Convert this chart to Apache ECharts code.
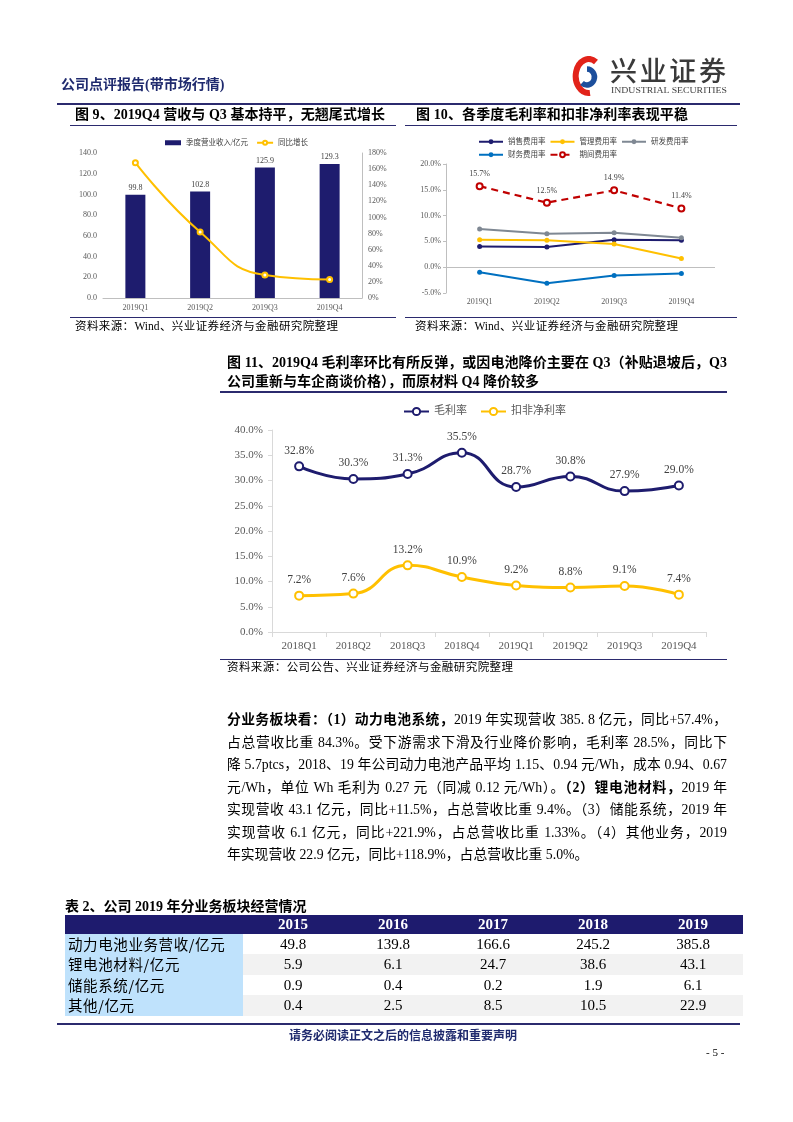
<!DOCTYPE html>
<html><head><meta charset="utf-8">
<script src="https://cdn.jsdelivr.net/npm/echarts@6/dist/echarts.min.js"></script>
<style>
html,body{margin:0;padding:0;background:#fff;}
#page{position:relative;width:793px;height:1122px;overflow:hidden;font-family:'Liberation Serif','Noto Sans CJK SC',serif;color:#000;}
#chart{position:absolute;left:0;top:0;width:793px;height:1122px;}
.t{position:absolute;white-space:nowrap;}
.j{text-align:justify;text-align-last:justify;}
.hl{position:absolute;background:#2b2a6e;}
.b{font-weight:bold;}
table{border-collapse:collapse;table-layout:fixed;}
td{padding:0;}
</style></head>
<body><div id="page">
<div id="chart"></div>

<!-- header -->
<div class="t b" style="left:61px;top:75px;line-height:20px;font-size:14px;color:#1f2a6e;">公司点评报告(带市场行情)</div>
<svg style="position:absolute;left:570px;top:56px;" width="170" height="44">
  <path d="M26,6 A13,17 0 1,0 20,37" stroke="#e2231a" stroke-width="6" fill="none"/>
  <path d="M12,27 A7.5,8 0 1,0 17,13" stroke="#1d4f9c" stroke-width="5.5" fill="none"/>
  <text x="40" y="25" font-family="Noto Sans CJK SC" font-weight="500" font-size="27" fill="#3a3a3a" textLength="116" lengthAdjust="spacing">兴业证券</text>
  <text x="41" y="37" font-family="Liberation Serif" font-size="9" fill="#404040" textLength="116" lengthAdjust="spacingAndGlyphs">INDUSTRIAL SECURITIES</text>
</svg>
<div class="hl" style="left:57px;top:103px;width:683px;height:1.5px;"></div>

<!-- fig 9 / 10 titles -->
<div class="t b j" style="left:75px;top:105px;width:310px;line-height:20px;font-size:14px;">图 9、2019Q4 营收与 Q3 基本持平，无翘尾式增长</div>
<div class="t b j" style="left:416px;top:105px;width:272px;line-height:20px;font-size:14px;">图 10、各季度毛利率和扣非净利率表现平稳</div>
<div class="hl" style="left:70px;top:124.5px;width:326px;height:1.5px;"></div>
<div class="hl" style="left:405px;top:124.5px;width:332px;height:1.5px;"></div>
<div class="hl" style="left:70px;top:316.5px;width:326px;height:1.5px;"></div>
<div class="hl" style="left:405px;top:316.5px;width:332px;height:1.5px;"></div>
<div class="t j" style="left:75px;top:318px;width:263px;line-height:17px;font-size:11.5px;">资料来源：Wind、兴业证券经济与金融研究院整理</div>
<div class="t j" style="left:415px;top:318px;width:263px;line-height:17px;font-size:11.5px;">资料来源：Wind、兴业证券经济与金融研究院整理</div>

<!-- fig 11 title -->
<div class="t b j" style="left:227px;top:353px;width:500px;line-height:20px;font-size:14px;">图 11、2019Q4 毛利率环比有所反弹，或因电池降价主要在 Q3（补贴退坡后，Q3</div>
<div class="t b j" style="left:227px;top:372px;width:308px;line-height:20px;font-size:14px;">公司重新与车企商谈价格），而原材料 Q4 降价较多</div>
<div class="hl" style="left:220px;top:391px;width:507px;height:1.5px;"></div>
<div class="hl" style="left:220px;top:658.5px;width:507px;height:1.5px;"></div>
<div class="t j" style="left:227px;top:659px;width:286px;line-height:17px;font-size:11.5px;">资料来源：公司公告、兴业证券经济与金融研究院整理</div>

<!-- body -->
<div id="body"></div>

<!-- table -->
<div class="t b" style="left:65px;top:897px;line-height:20px;font-size:14px;">表 2、公司 2019 年分业务板块经营情况</div>
<div id="tbl" style="position:absolute;left:65px;top:915px;"></div>

<!-- footer -->
<div class="hl" style="left:57px;top:1023px;width:683px;height:2px;"></div>
<div class="t b" style="left:287px;top:1027px;width:232px;text-align:center;line-height:18px;font-size:12px;color:#1f2a6e;">请务必阅读正文之后的信息披露和重要声明</div>
<div class="t" style="left:706px;top:1044px;line-height:16px;font-size:11px;">- 5 -</div>
</div>

<script>
// ---------- data ----------
const q19 = ['2019Q1','2019Q2','2019Q3','2019Q4'];
const revenue = [99.8, 102.8, 125.9, 129.3];
const revenueYoY = [168, 82, 28.5, 23];
const sellRate = [4.0, 3.9, 5.3, 5.2];
const mgmtRate = [5.3, 5.2, 4.5, 1.7];
const rdRate = [7.4, 6.5, 6.7, 5.7];
const finRate = [-1.0, -3.1, -1.6, -1.2];
const periodRate = [15.7, 12.5, 14.9, 11.4];
const q8 = ['2018Q1','2018Q2','2018Q3','2018Q4','2019Q1','2019Q2','2019Q3','2019Q4'];
const grossMargin = [32.8, 30.3, 31.3, 35.5, 28.7, 30.8, 27.9, 29.0];
const netMargin = [7.2, 7.6, 13.2, 10.9, 9.2, 8.8, 9.1, 7.4];
const tableYears = ['2015','2016','2017','2018','2019'];
const tableRows = ['动力电池业务营收/亿元','锂电池材料/亿元','储能系统/亿元','其他/亿元'];
const tableValues = [
  ['49.8','139.8','166.6','245.2','385.8'],
  ['5.9','6.1','24.7','38.6','43.1'],
  ['0.9','0.4','0.2','1.9','6.1'],
  ['0.4','2.5','8.5','10.5','22.9']
];
const bodyLines = [
  ['<span class="b">分业务板块看：（1）动力电池系统，</span>2019 年实现营收 385. 8 亿元，同比+57.4%，', true],
  ['占总营收比重 84.3%。受下游需求下滑及行业降价影响，毛利率 28.5%，同比下', true],
  ['降 5.7ptcs，2018、19 年公司动力电池产品平均 1.15、0.94 元/Wh，成本 0.94、0.67', true],
  ['元/Wh，单位 Wh 毛利为 0.27 元（同减 0.12 元/Wh）。<span class="b">（2）锂电池材料，</span>2019 年', true],
  ['实现营收 43.1 亿元，同比+11.5%，占总营收比重 9.4%。（3）储能系统，2019 年', true],
  ['实现营收 6.1 亿元，同比+221.9%，占总营收比重 1.33%。（4）其他业务，2019', true],
  ['年实现营收 22.9 亿元，同比+118.9%，占总营收比重 5.0%。', false]
];

// ---------- body text ----------
(function(){
  let h = '';
  bodyLines.forEach((l, i) => {
    const top = 720 + i * 22.5 - 11;
    h += '<div class="t' + (l[1] ? ' j' : '') + '" style="left:227px;top:' + top + 'px;width:500px;line-height:22px;font-size:13.8px;">' + l[0] + '</div>';
  });
  document.getElementById('body').innerHTML = h;
})();

// ---------- table ----------
(function(){
  let h = '<table style="width:678px;font-size:15px;">';
  h += '<colgroup><col style="width:178px">' + tableYears.map(() => '<col style="width:100px">').join('') + '</colgroup>';
  h += '<tr style="height:18.5px;background:#1e1b6e;color:#fff;font-weight:bold;"><td></td>' +
       tableYears.map(y => '<td style="text-align:center;line-height:18.5px;">' + y + '</td>').join('') + '</tr>';
  tableRows.forEach((r, i) => {
    const bg = i % 2 === 1 ? '#f2f2f2' : '#ffffff';
    h += '<tr style="height:20.6px;background:' + bg + ';"><td style="background:#bfe2fc;padding-left:3px;line-height:20.6px;letter-spacing:0.6px;font-family:\'Noto Sans CJK SC\';font-size:14.5px;">' + r + '</td>' +
         tableValues[i].map(v => '<td style="text-align:center;line-height:20.6px;">' + v + '</td>').join('') + '</tr>';
  });
  h += '</table>';
  document.getElementById('tbl').innerHTML = h;
})();

// ---------- charts ----------
const FONT = "'Liberation Serif','Noto Sans CJK SC',serif";
const NAVY = '#1e1c6e', YEL = '#ffc000', GRAY = '#7f8893', BLUE = '#0070c0', RED = '#c00000';
const pct1 = v => v.toFixed(1) + '%';
const chart = echarts.init(document.getElementById('chart'), null, {renderer: 'canvas'});

const smallLbl = {fontSize: 8, color: '#404040', fontFamily: FONT};

const option = {
  animation: false,
  textStyle: {fontFamily: FONT},
  legend: [
    {data: [{name: '季度营业收入/亿元', icon: 'rect'}, '同比增长'], left: 160, top: 134, itemWidth: 16, itemHeight: 5, itemGap: 8,
     textStyle: {fontSize: 7.5, color: '#404040', fontFamily: FONT}},
    {data: ['销售费用率', '管理费用率', '研发费用率'], left: 473, top: 133, itemWidth: 24, itemHeight: 6, itemGap: 4,
     textStyle: {fontSize: 7.5, color: '#404040', fontFamily: FONT}},
    {data: ['财务费用率', '期间费用率'], left: 473, top: 146, itemWidth: 24, itemHeight: 6, itemGap: 4,
     textStyle: {fontSize: 7.5, color: '#404040', fontFamily: FONT}},
    {data: ['毛利率', '扣非净利率'], left: 398, top: 401, itemWidth: 25, itemHeight: 9, itemGap: 13,
     textStyle: {fontSize: 11, color: '#595959', fontFamily: FONT}}
  ],
  grid: [
    {left: 103, top: 153, width: 259, height: 145},
    {left: 446, top: 164, width: 269, height: 129},
    {left: 272, top: 430, width: 434, height: 202}
  ],
  xAxis: [
    {gridIndex: 0, type: 'category', data: q19,
     axisLine: {lineStyle: {color: '#bfbfbf'}}, axisTick: {show: false},
     axisLabel: {fontSize: 8, color: '#595959', margin: 6}},
    {gridIndex: 1, type: 'category', data: q19,
     axisLine: {show: false, onZero: false}, axisTick: {show: false},
     axisLabel: {fontSize: 8, color: '#595959', margin: 5}},
    {gridIndex: 2, type: 'category', data: q8,
     axisLine: {lineStyle: {color: '#d9d9d9'}}, axisTick: {show: true, length: 5, lineStyle: {color: '#d9d9d9'}},
     axisLabel: {fontSize: 11, color: '#595959', margin: 9}}
  ],
  yAxis: [
    {gridIndex: 0, type: 'value', min: 0, max: 140, interval: 20,
     axisLine: {show: false}, axisTick: {show: false}, splitLine: {show: false},
     axisLabel: {fontSize: 8, color: '#595959', margin: 6, formatter: v => v.toFixed(1)}},
    {gridIndex: 0, type: 'value', position: 'right', min: 0, max: 180, interval: 20,
     axisLine: {show: true, lineStyle: {color: '#bfbfbf'}}, axisTick: {show: false}, splitLine: {show: false},
     axisLabel: {fontSize: 8, color: '#595959', margin: 6, formatter: v => v + '%'}},
    {gridIndex: 1, type: 'value', min: -5, max: 20, interval: 5,
     axisLine: {show: true, lineStyle: {color: '#bfbfbf'}}, axisTick: {show: true, length: 3, lineStyle: {color: '#bfbfbf'}}, splitLine: {show: false},
     axisLabel: {fontSize: 8, color: '#595959', margin: 5, formatter: pct1}},
    {gridIndex: 2, type: 'value', min: 0, max: 40, interval: 5,
     axisLine: {show: true, lineStyle: {color: '#d9d9d9'}}, axisTick: {show: true, length: 4, lineStyle: {color: '#d9d9d9'}}, splitLine: {show: false},
     axisLabel: {fontSize: 11, color: '#595959', margin: 9, formatter: pct1}}
  ],
  series: [
    {name: '季度营业收入/亿元', type: 'bar', xAxisIndex: 0, yAxisIndex: 0, data: revenue, barWidth: 20,
     itemStyle: {color: NAVY},
     label: {show: true, position: 'top', distance: 3, ...smallLbl, formatter: p => p.value.toFixed(1)}},
    {name: '同比增长', type: 'line', xAxisIndex: 0, yAxisIndex: 1, data: revenueYoY, smooth: true,
     symbol: 'emptyCircle', symbolSize: 5, lineStyle: {color: YEL, width: 2}, itemStyle: {color: YEL}},

    {name: '销售费用率', type: 'line', xAxisIndex: 1, yAxisIndex: 2, data: sellRate,
     symbol: 'circle', symbolSize: 5, lineStyle: {color: NAVY, width: 2}, itemStyle: {color: NAVY},
     markLine: {silent: true, symbol: 'none', label: {show: false}, lineStyle: {color: '#bfbfbf', type: 'solid', width: 1}, data: [{yAxis: 0}]}},
    {name: '管理费用率', type: 'line', xAxisIndex: 1, yAxisIndex: 2, data: mgmtRate,
     symbol: 'circle', symbolSize: 5, lineStyle: {color: YEL, width: 2}, itemStyle: {color: YEL}},
    {name: '研发费用率', type: 'line', xAxisIndex: 1, yAxisIndex: 2, data: rdRate,
     symbol: 'circle', symbolSize: 5, lineStyle: {color: GRAY, width: 2}, itemStyle: {color: GRAY}},
    {name: '财务费用率', type: 'line', xAxisIndex: 1, yAxisIndex: 2, data: finRate,
     symbol: 'circle', symbolSize: 5, lineStyle: {color: BLUE, width: 2}, itemStyle: {color: BLUE}},
    {name: '期间费用率', type: 'line', xAxisIndex: 1, yAxisIndex: 2, data: periodRate, z: 5,
     symbol: 'emptyCircle', symbolSize: 6, lineStyle: {color: RED, width: 2.2, type: [7, 5]}, itemStyle: {color: RED},
     label: {show: true, position: 'top', distance: 4, ...smallLbl, formatter: p => pct1(p.value)}},

    {name: '毛利率', type: 'line', xAxisIndex: 2, yAxisIndex: 3, data: grossMargin, smooth: true,
     symbol: 'emptyCircle', symbolSize: 8, lineStyle: {color: NAVY, width: 3}, itemStyle: {color: NAVY, borderWidth: 1.5},
     label: {show: true, position: 'top', distance: 5, fontSize: 11.5, color: '#404040', fontFamily: FONT, formatter: p => pct1(p.value)}},
    {name: '扣非净利率', type: 'line', xAxisIndex: 2, yAxisIndex: 3, data: netMargin, smooth: true,
     symbol: 'emptyCircle', symbolSize: 8, lineStyle: {color: YEL, width: 3}, itemStyle: {color: YEL, borderWidth: 1.5},
     label: {show: true, position: 'top', distance: 5, fontSize: 11.5, color: '#404040', fontFamily: FONT, formatter: p => pct1(p.value)}}
  ]
};
chart.setOption(option);
</script>
</body></html>
